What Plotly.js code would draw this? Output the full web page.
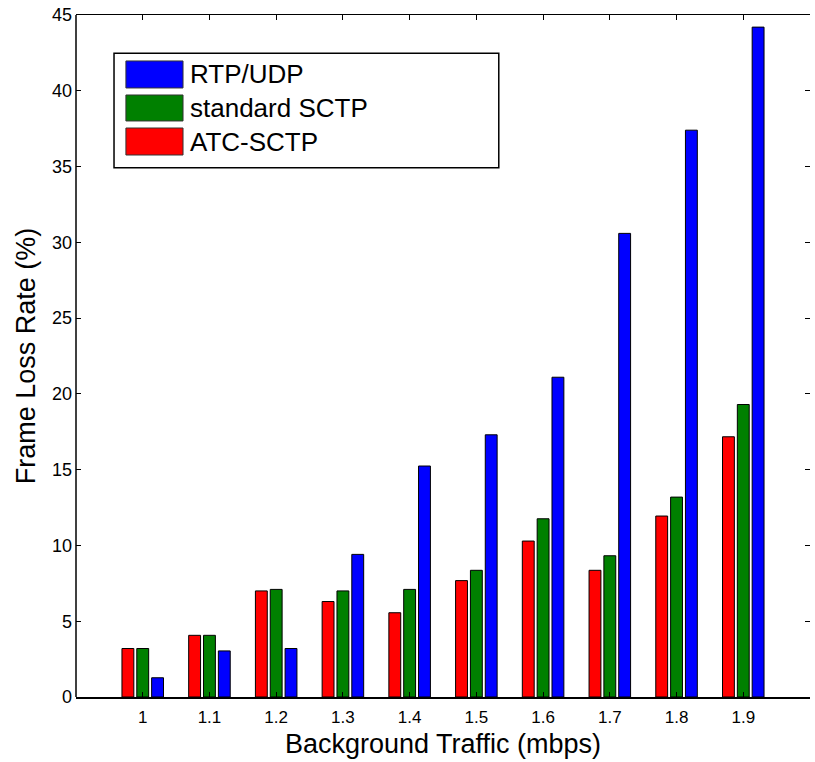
<!DOCTYPE html>
<html>
<head>
<meta charset="utf-8">
<script src="https://cdn.plot.ly/plotly-3.0.1.min.js"></script>
<style>html,body{margin:0;padding:0;background:#fff;}</style>
</head>
<body>
<div id="chart" style="width:815px;height:762px;"></div>
<script>
const traffic = [1.0, 1.1, 1.2, 1.3, 1.4, 1.5, 1.6, 1.7, 1.8, 1.9];
const tickLabels = ["1", "1.1", "1.2", "1.3", "1.4", "1.5", "1.6", "1.7", "1.8", "1.9"];
const atcSctp = [3.2, 4.07, 7.0, 6.3, 5.56, 7.68, 10.29, 8.36, 11.94, 17.17];
const standardSctp = [3.2, 4.07, 7.1, 7.0, 7.1, 8.36, 11.76, 9.32, 13.19, 19.3];
const rtpUdp = [1.27, 3.04, 3.2, 9.41, 15.24, 17.3, 21.1, 30.59, 37.4, 44.2];
const seriesNames = ["RTP/UDP", "standard SCTP", "ATC-SCTP"];
const seriesColors = ["#0000ff", "#008000", "#ff0000"];

const font = "Liberation Sans, Arial, sans-serif";
const outline = {color: "#000000", width: 1};

const traces = [
  {type: "bar", name: seriesNames[2], x: traffic, y: atcSctp, marker: {color: seriesColors[2], line: outline}},
  {type: "bar", name: seriesNames[1], x: traffic, y: standardSctp, marker: {color: seriesColors[1], line: outline}},
  {type: "bar", name: seriesNames[0], x: traffic, y: rtpUdp, marker: {color: seriesColors[0], line: outline}}
];

// custom legend (big swatches like the original)
const lg = {x0: 0.0518, x1: 0.576, y0: 0.776, y1: 0.944, sx0: 0.068, sx1: 0.1458, tx: 0.1526};
const rows = [[0.893, 0.9326], [0.8446, 0.8827], [0.7947, 0.8343]];
const shapes = [
  {type: "line", xref: "paper", yref: "paper", x0: 0, x1: 0, y0: 0, y1: 1, line: {color: "#000", width: 1.5}},
  {type: "rect", xref: "paper", yref: "paper", x0: lg.x0, x1: lg.x1, y0: lg.y0, y1: lg.y1, line: {color: "#000", width: 1.5}, fillcolor: "#fff", layer: "above"}
];
const annotations = [];
seriesNames.forEach((nm, i) => {
  shapes.push({type: "rect", xref: "paper", yref: "paper", x0: lg.sx0, x1: lg.sx1, y0: rows[i][0], y1: rows[i][1],
    fillcolor: seriesColors[i], line: {color: "#333", width: 1}, layer: "above"});
  annotations.push({xref: "paper", yref: "paper", x: lg.tx, y: (rows[i][0] + rows[i][1]) / 2, xanchor: "left", yanchor: "middle",
    text: nm, showarrow: false, font: {family: font, size: 26, color: "#000"}});
});

const layout = {
  width: 815, height: 762,
  margin: {l: 76, r: 5, t: 15, b: 65},
  paper_bgcolor: "#fff", plot_bgcolor: "#fff",
  barmode: "group", bargap: 0.333, bargroupgap: 0.2,
  showlegend: false,
  font: {family: font, color: "#000"},
  xaxis: {
    range: [0.9, 2.0], tickvals: traffic, ticktext: tickLabels,
    ticks: "inside", ticklen: 5, tickcolor: "#000", tickwidth: 1,
    showline: true, linecolor: "#000", linewidth: 1.5, mirror: "ticks",
    showgrid: false, zeroline: false, ticklabelstandoff: 4,
    tickfont: {family: font, size: 17, color: "#000"},
    title: {text: "Background Traffic (mbps)", font: {family: font, size: 27, color: "#000"}, standoff: 8}
  },
  yaxis: {
    range: [0, 45], tickvals: [0, 5, 10, 15, 20, 25, 30, 35, 40, 45],
    ticks: "inside", ticklen: 5, tickcolor: "#000", tickwidth: 1,
    showline: false, mirror: "ticks",
    showgrid: false, zeroline: false, ticklabelstandoff: 3,
    tickfont: {family: font, size: 18, color: "#000"},
    title: {text: "Frame Loss Rate (%)", font: {family: font, size: 27, color: "#000"}, standoff: 8}
  },
  shapes: shapes,
  annotations: annotations
};

Plotly.newPlot("chart", traces, layout, {displayModeBar: false, staticPlot: true});
</script>
</body>
</html>
